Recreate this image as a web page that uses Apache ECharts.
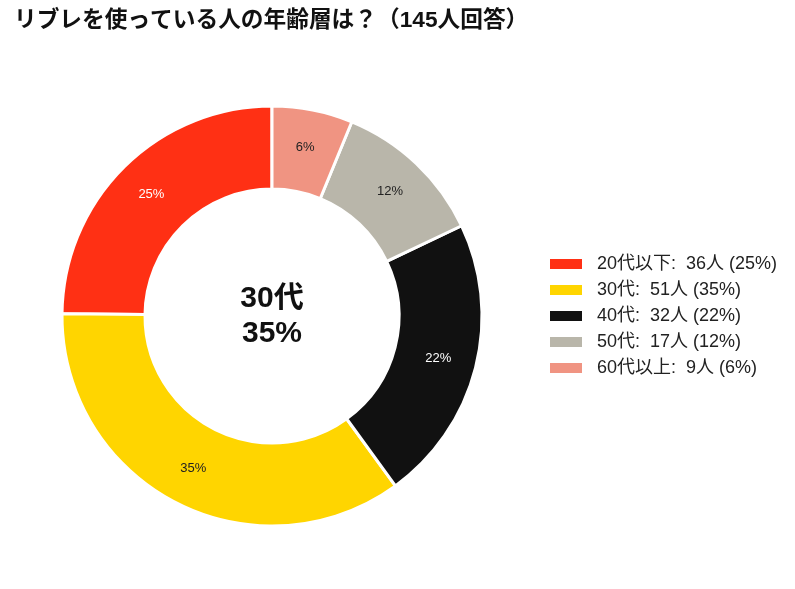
<!DOCTYPE html>
<html>
<head>
<meta charset="utf-8">
<script src="https://cdn.jsdelivr.net/npm/echarts@6/dist/echarts.min.js"></script>
<style>
  html, body { margin: 0; padding: 0; background: #fff; }
  #chart { width: 795px; height: 589px; }
</style>
</head>
<body>
<div id="chart"></div>
<script>
// 年齢層データ
const categories = ['20代以下', '30代', '40代', '50代', '60代以上']
const counts = [36, 51, 32, 17, 9]
const colors = ['#FF3014', '#FFD500', '#111111', '#B9B6AA', '#F09482']
const labelColors = ['#ffffff', '#222222', '#ffffff', '#222222', '#222222']
const total = 145

const font = '"Liberation Sans", "Noto Sans CJK JP", sans-serif'
const pct = v => Math.round(v / total * 100)

const chart = echarts.init(document.getElementById('chart'))
chart.setOption({
  animation: false,
  title: {
    text: 'リブレを使っている人の年齢層は？（145人回答）',
    left: 9, top: 4,
    textStyle: { fontFamily: font, fontSize: 22.7, fontWeight: 'bold', color: '#111' }
  },
  legend: {
    orient: 'vertical',
    left: 548, top: 255,
    padding: 0,
    icon: 'rect',
    itemWidth: 34, itemHeight: 12,
    itemGap: 8,
    data: categories,
    formatter: name => {
      const i = categories.indexOf(name)
      return name + ':  ' + counts[i] + '人 (' + pct(counts[i]) + '%)'
    },
    textStyle: { fontFamily: font, fontSize: 18, color: '#222', lineHeight: 18, padding: [0, 0, 0, 9] }
  },
  graphic: [{
    type: 'text',
    x: 272, y: 316,
    style: {
      text: '30代\n35%',
      align: 'center', verticalAlign: 'middle',
      font: 'bold 30px ' + font,
      lineHeight: 35,
      fill: '#111'
    }
  }],
  series: [{
    type: 'pie',
    center: [272, 316],
    radius: [127, 210],
    startAngle: 90,
    clockwise: false,
    itemStyle: { borderColor: '#fff', borderWidth: 3 },
    label: {
      position: 'inside',
      fontFamily: font, fontSize: 13,
      formatter: p => pct(p.value) + '%'
    },
    labelLine: { show: false },
    emphasis: { disabled: true },
    data: categories.map((name, i) => ({
      name: name,
      value: counts[i],
      itemStyle: { color: colors[i] },
      label: { color: labelColors[i] }
    }))
  }]
})
</script>
</body>
</html>
